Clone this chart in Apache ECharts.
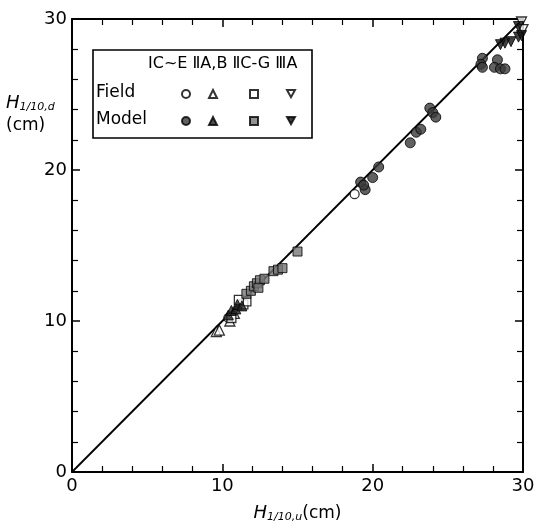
<!DOCTYPE html>
<html>
<head>
<meta charset="utf-8">
<script src="https://cdn.jsdelivr.net/npm/echarts@6/dist/echarts.min.js"></script>
<style>
  html, body { margin: 0; padding: 0; background: #fff; }
  #chart { width: 541px; height: 528px; }
</style>
</head>
<body>
<div id="chart"></div>
<script>
// Axis range and tick labels (cm)
var axisMin = 0;
var axisMax = 30;
var tickLabels = ['0', '10', '20', '30'];

// Column headers of the key (regions)
var regionHeaders = ['ⅠC~E', 'ⅡA,B', 'ⅡC-G', 'ⅢA'];
var rowNames = ['Field', 'Model'];

// Equality line H1/10,d = H1/10,u
var equalityLine = [[0, 0], [30, 30]];

// Field measurements [H1/10,u, H1/10,d]
var fieldIC_E = [[18.8, 18.4], [10.4, 10.2]];
var fieldIIA_B = [[9.6, 9.3], [9.8, 9.4], [10.5, 10.0], [10.8, 10.5]];
var fieldIIC_G = [[10.6, 10.2], [11.4, 11.1], [11.6, 11.3], [11.1, 11.4]];
var fieldIIIA = [[29.9, 29.8], [30.0, 29.3]];

// Model measurements [H1/10,u, H1/10,d]
var modelIC_E = [[19.2, 19.2], [19.5, 18.7], [19.4, 19.0], [20.0, 19.5], [20.4, 20.2],
                 [22.5, 21.8], [22.9, 22.5], [23.2, 22.7], [23.8, 24.1], [24.0, 23.8],
                 [24.2, 23.5], [27.3, 27.4], [27.2, 27.0], [27.3, 26.8], [28.3, 27.3],
                 [28.1, 26.8], [28.5, 26.7], [28.8, 26.7]];
var modelIIA_B = [[10.4, 10.4], [10.6, 10.7], [10.9, 10.8], [11.0, 11.1], [11.3, 11.0]];
var modelIIC_G = [[11.6, 11.8], [11.9, 12.0], [12.1, 12.3], [12.3, 12.5], [12.5, 12.7],
                  [12.4, 12.2], [12.8, 12.8], [13.4, 13.3], [13.7, 13.4], [14.0, 13.5],
                  [15.0, 14.6]];
var modelIIIA = [[28.5, 28.3], [28.8, 28.4], [29.2, 28.5], [29.7, 28.8], [29.9, 28.9],
                 [29.7, 29.5]];

var FONT = 'DejaVu Sans';
var INV_TRI = 'path://M0,0 L10,0 L5,9 Z';

function openStyle() {
  return { color: '#fff', borderColor: '#000', borderWidth: 1.3 };
}
function scatter(name, data, symbol, size, style) {
  return {
    name: name, type: 'scatter', data: data, symbol: symbol, symbolSize: size,
    itemStyle: style, z: 3, clip: false
  };
}

function axisBase(pos, showLabels) {
  return {
    type: 'value', min: axisMin, max: axisMax, interval: 10, position: pos,
    axisLine: { show: true, onZero: false, lineStyle: { color: '#000', width: 2 } },
    axisTick: { show: true, inside: true, length: 8, lineStyle: { color: '#000', width: 1.5 } },
    minorTick: { show: true, splitNumber: 5, length: 6, lineStyle: { color: '#000', width: 1.2 } },
    splitLine: { show: false },
    axisLabel: {
      show: showLabels, color: '#000', fontFamily: FONT, fontSize: 18, margin: 5,
      formatter: function (v) { return tickLabels[Math.round(v / 10)]; }
    }
  };
}

var xBottom = axisBase('bottom', true);
xBottom.name = '{i|H}{s|1/10,u}{n|(cm)}';
xBottom.nameLocation = 'middle';
xBottom.nameGap = 32;
xBottom.nameTextStyle = {
  rich: {
    i: { fontFamily: FONT, fontStyle: 'italic', fontSize: 18, color: '#000' },
    s: { fontFamily: FONT, fontStyle: 'italic', fontSize: 11, color: '#000', padding: [8, 0, 0, 0] },
    n: { fontFamily: FONT, fontSize: 17, color: '#000' }
  }
};

var seriesList = [
  { name: 'eq', type: 'line', data: equalityLine, symbol: 'none',
    lineStyle: { color: '#000', width: 1.8 }, z: 2 },
  scatter('fIC_E', fieldIC_E, 'circle', 9, openStyle()),
  scatter('fIIA_B', fieldIIA_B, 'triangle', 10, openStyle()),
  scatter('fIIC_G', fieldIIC_G, 'rect', 9, openStyle()),
  scatter('fIIIA', fieldIIIA, INV_TRI, 10, openStyle()),
  scatter('mIC_E', modelIC_E, 'circle', 10, { color: '#3a3a3a', borderColor: '#000', borderWidth: 1 }),
  scatter('mIIA_B', modelIIA_B, 'triangle', 10, { color: '#222', borderColor: '#000', borderWidth: 1 }),
  scatter('mIIC_G', modelIIC_G, 'rect', 9, { color: '#777', borderColor: '#000', borderWidth: 1 }),
  scatter('mIIIA', modelIIIA, INV_TRI, 10, { color: '#111', borderColor: '#000', borderWidth: 1 })
];

// Key: one legend per symbol cell so the columns line up under their headers
var keyCols = [185, 212, 253, 290];
var keyRows = [89, 116];
var keyNames = [['fIC_E', 'fIIA_B', 'fIIC_G', 'fIIIA'], ['mIC_E', 'mIIA_B', 'mIIC_G', 'mIIIA']];
var legends = [];
keyNames.forEach(function (row, r) {
  row.forEach(function (nm, c) {
    legends.push({
      data: [nm], left: keyCols[c] - 4, top: keyRows[r], itemWidth: 8, itemHeight: 8,
      itemGap: 0, padding: 0, selectedMode: false, z: 20,
      formatter: function () { return ''; }, textStyle: { fontSize: 1 }
    });
  });
});

var chart = echarts.init(document.getElementById('chart'), null, { renderer: 'canvas' });
chart.setOption({
  backgroundColor: '#fff',
  animation: false,
  grid: { left: 72, right: 18, top: 19, bottom: 56, containLabel: false },
  xAxis: [xBottom, axisBase('top', false)],
  yAxis: [axisBase('left', true), axisBase('right', false)],
  legend: legends,
  series: seriesList,
  graphic: [
    { type: 'rect', shape: { x: 93, y: 50, width: 219, height: 88 },
      style: { fill: '#fff', stroke: '#000', lineWidth: 1.6 }, z: 10 },
    { type: 'text', left: 148, top: 56, z: 11,
      style: { text: regionHeaders.join(' '), fontFamily: FONT, fontSize: 16, fill: '#000' } },
    { type: 'text', left: 96, top: 84, z: 11,
      style: { text: rowNames[0], fontFamily: FONT, fontSize: 17, fill: '#000' } },
    { type: 'text', left: 96, top: 111, z: 11,
      style: { text: rowNames[1], fontFamily: FONT, fontSize: 17, fill: '#000' } },
    { type: 'text', left: 6, top: 94, z: 11,
      style: {
        text: '{i|H}{s|1/10,d}\n{n|(cm)}', fill: '#000',
        rich: {
          i: { fontFamily: FONT, fontStyle: 'italic', fontSize: 18, lineHeight: 22 },
          s: { fontFamily: FONT, fontStyle: 'italic', fontSize: 11, padding: [8, 0, 0, 0], lineHeight: 22 },
          n: { fontFamily: FONT, fontSize: 17, lineHeight: 22 }
        }
      } }
  ]
});
</script>
</body>
</html>
